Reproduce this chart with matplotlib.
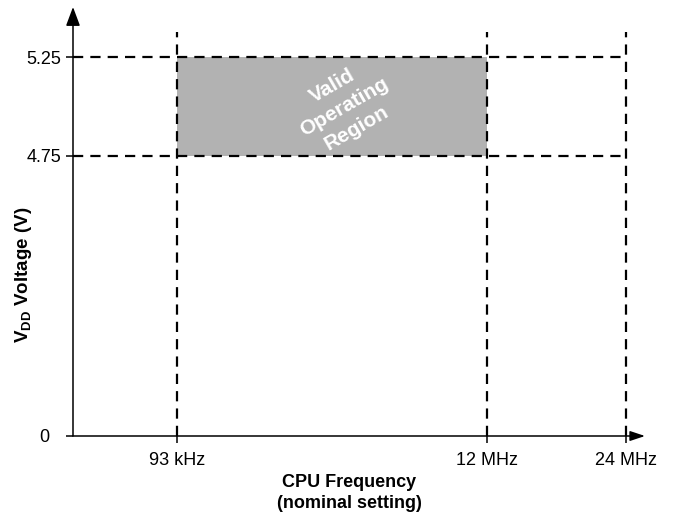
import numpy as np
import matplotlib
matplotlib.use("Agg")
import matplotlib.pyplot as plt

plt.rcParams['font.family'] = ['Liberation Sans', 'DejaVu Sans']
plt.rcParams['mathtext.fontset'] = 'custom'
plt.rcParams['mathtext.rm'] = 'Liberation Sans'
plt.rcParams['mathtext.bf'] = 'Liberation Sans:bold'

# ---- data ----
freq_ticks = [93, 12000, 24000]            # kHz
freq_labels = ['93 kHz', '12 MHz', '24 MHz']
volt_ticks = [0, 4.75, 5.25]               # V
volt_labels = ['0', '4.75', '5.25']
valid_freq = [93, 12000]                   # kHz range of valid region
valid_volt = [4.75, 5.25]                  # V range of valid region
region_text = 'Valid\nOperating\nRegion'

# ---- schematic (non-linear) scales: value -> pixel position ----
X_VAL = np.array([0] + freq_ticks + [30000], dtype=float)
X_POS = np.array([0, 104, 413.5, 552.7, 600])
Y_VAL = np.array(volt_ticks + [6.0], dtype=float)
Y_POS = np.array([0, 280, 379, 460])

def xf(v): return np.interp(v, X_VAL, X_POS)
def xi(p): return np.interp(p, X_POS, X_VAL)
def yf(v): return np.interp(v, Y_VAL, Y_POS)
def yi(p): return np.interp(p, Y_POS, Y_VAL)

W, H = 678, 516
fig = plt.figure(figsize=(W/100, H/100), dpi=100)
ax = fig.add_axes([73/W, (H-436)/H, (645-73)/W, (436-7)/H])
ax.set_xscale('function', functions=(xf, xi))
ax.set_yscale('function', functions=(yf, yi))
ax.set_xlim(0, xi(572))
ax.set_ylim(0, yi(429))
for s in ax.spines.values():
    s.set_visible(False)
ax.patch.set_alpha(0)

# valid region
ax.fill_between(valid_freq, valid_volt[0], valid_volt[1], color='#b2b2b2', lw=0, zorder=1)

dash = dict(color='black', lw=1.6, linestyle=(0, (4.6, 3.2)), zorder=3)
# horizontal dashed lines
for v in valid_volt:
    ax.plot([0, freq_ticks[-1]], [v, v], clip_on=False, **dash)
# vertical dashed lines
for f in freq_ticks:
    ax.plot([f, f], [0, 404/429], transform=ax.get_xaxis_transform(), clip_on=False, **dash)

# axes arrows
ax.annotate('', xy=(0, 1), xytext=(0, 0), xycoords='axes fraction', textcoords='axes fraction',
            arrowprops=dict(arrowstyle='-|>,head_length=1.15,head_width=0.43', mutation_scale=10,
                            color='black', lw=1.1, shrinkA=0, shrinkB=0), annotation_clip=False)
ax.annotate('', xy=(1, 0), xytext=(0, 0), xycoords='axes fraction', textcoords='axes fraction',
            arrowprops=dict(arrowstyle='-|>,head_length=0.9,head_width=0.3', mutation_scale=10,
                            color='black', lw=1.1, shrinkA=0, shrinkB=0), annotation_clip=False)

# ticks
ax.set_xticks(freq_ticks)
ax.set_xticklabels(freq_labels)
ax.set_yticks(volt_ticks)
ax.set_yticklabels(volt_labels)
ax.minorticks_off()
ax.tick_params(axis='both', direction='out', length=5, width=1.1, color='black', labelsize=13)
ax.tick_params(axis='x', pad=6.5)
ax.tick_params(axis='y', pad=15.8)
for lbl in ax.get_yticklabels():
    lbl.set_horizontalalignment('center')

# region text
fig.text(344/W, 1 - 107/H, region_text, color='white', fontsize=15, fontweight='bold',
         rotation=30, ha='center', va='center', multialignment='center', linespacing=1.35, zorder=5)

# axis labels
fig.text(24/W, 1 - 275/H, r'V$_{\mathbf{DD}}$ Voltage (V)', rotation=90, ha='center', va='center',
         fontsize=13.5, fontweight='bold')
fig.text(349/W, 1 - 493/H, 'CPU Frequency\n(nominal setting)', ha='center', va='center',
         fontsize=13, fontweight='bold', linespacing=1.3)

fig.savefig('out.png', dpi=100)
